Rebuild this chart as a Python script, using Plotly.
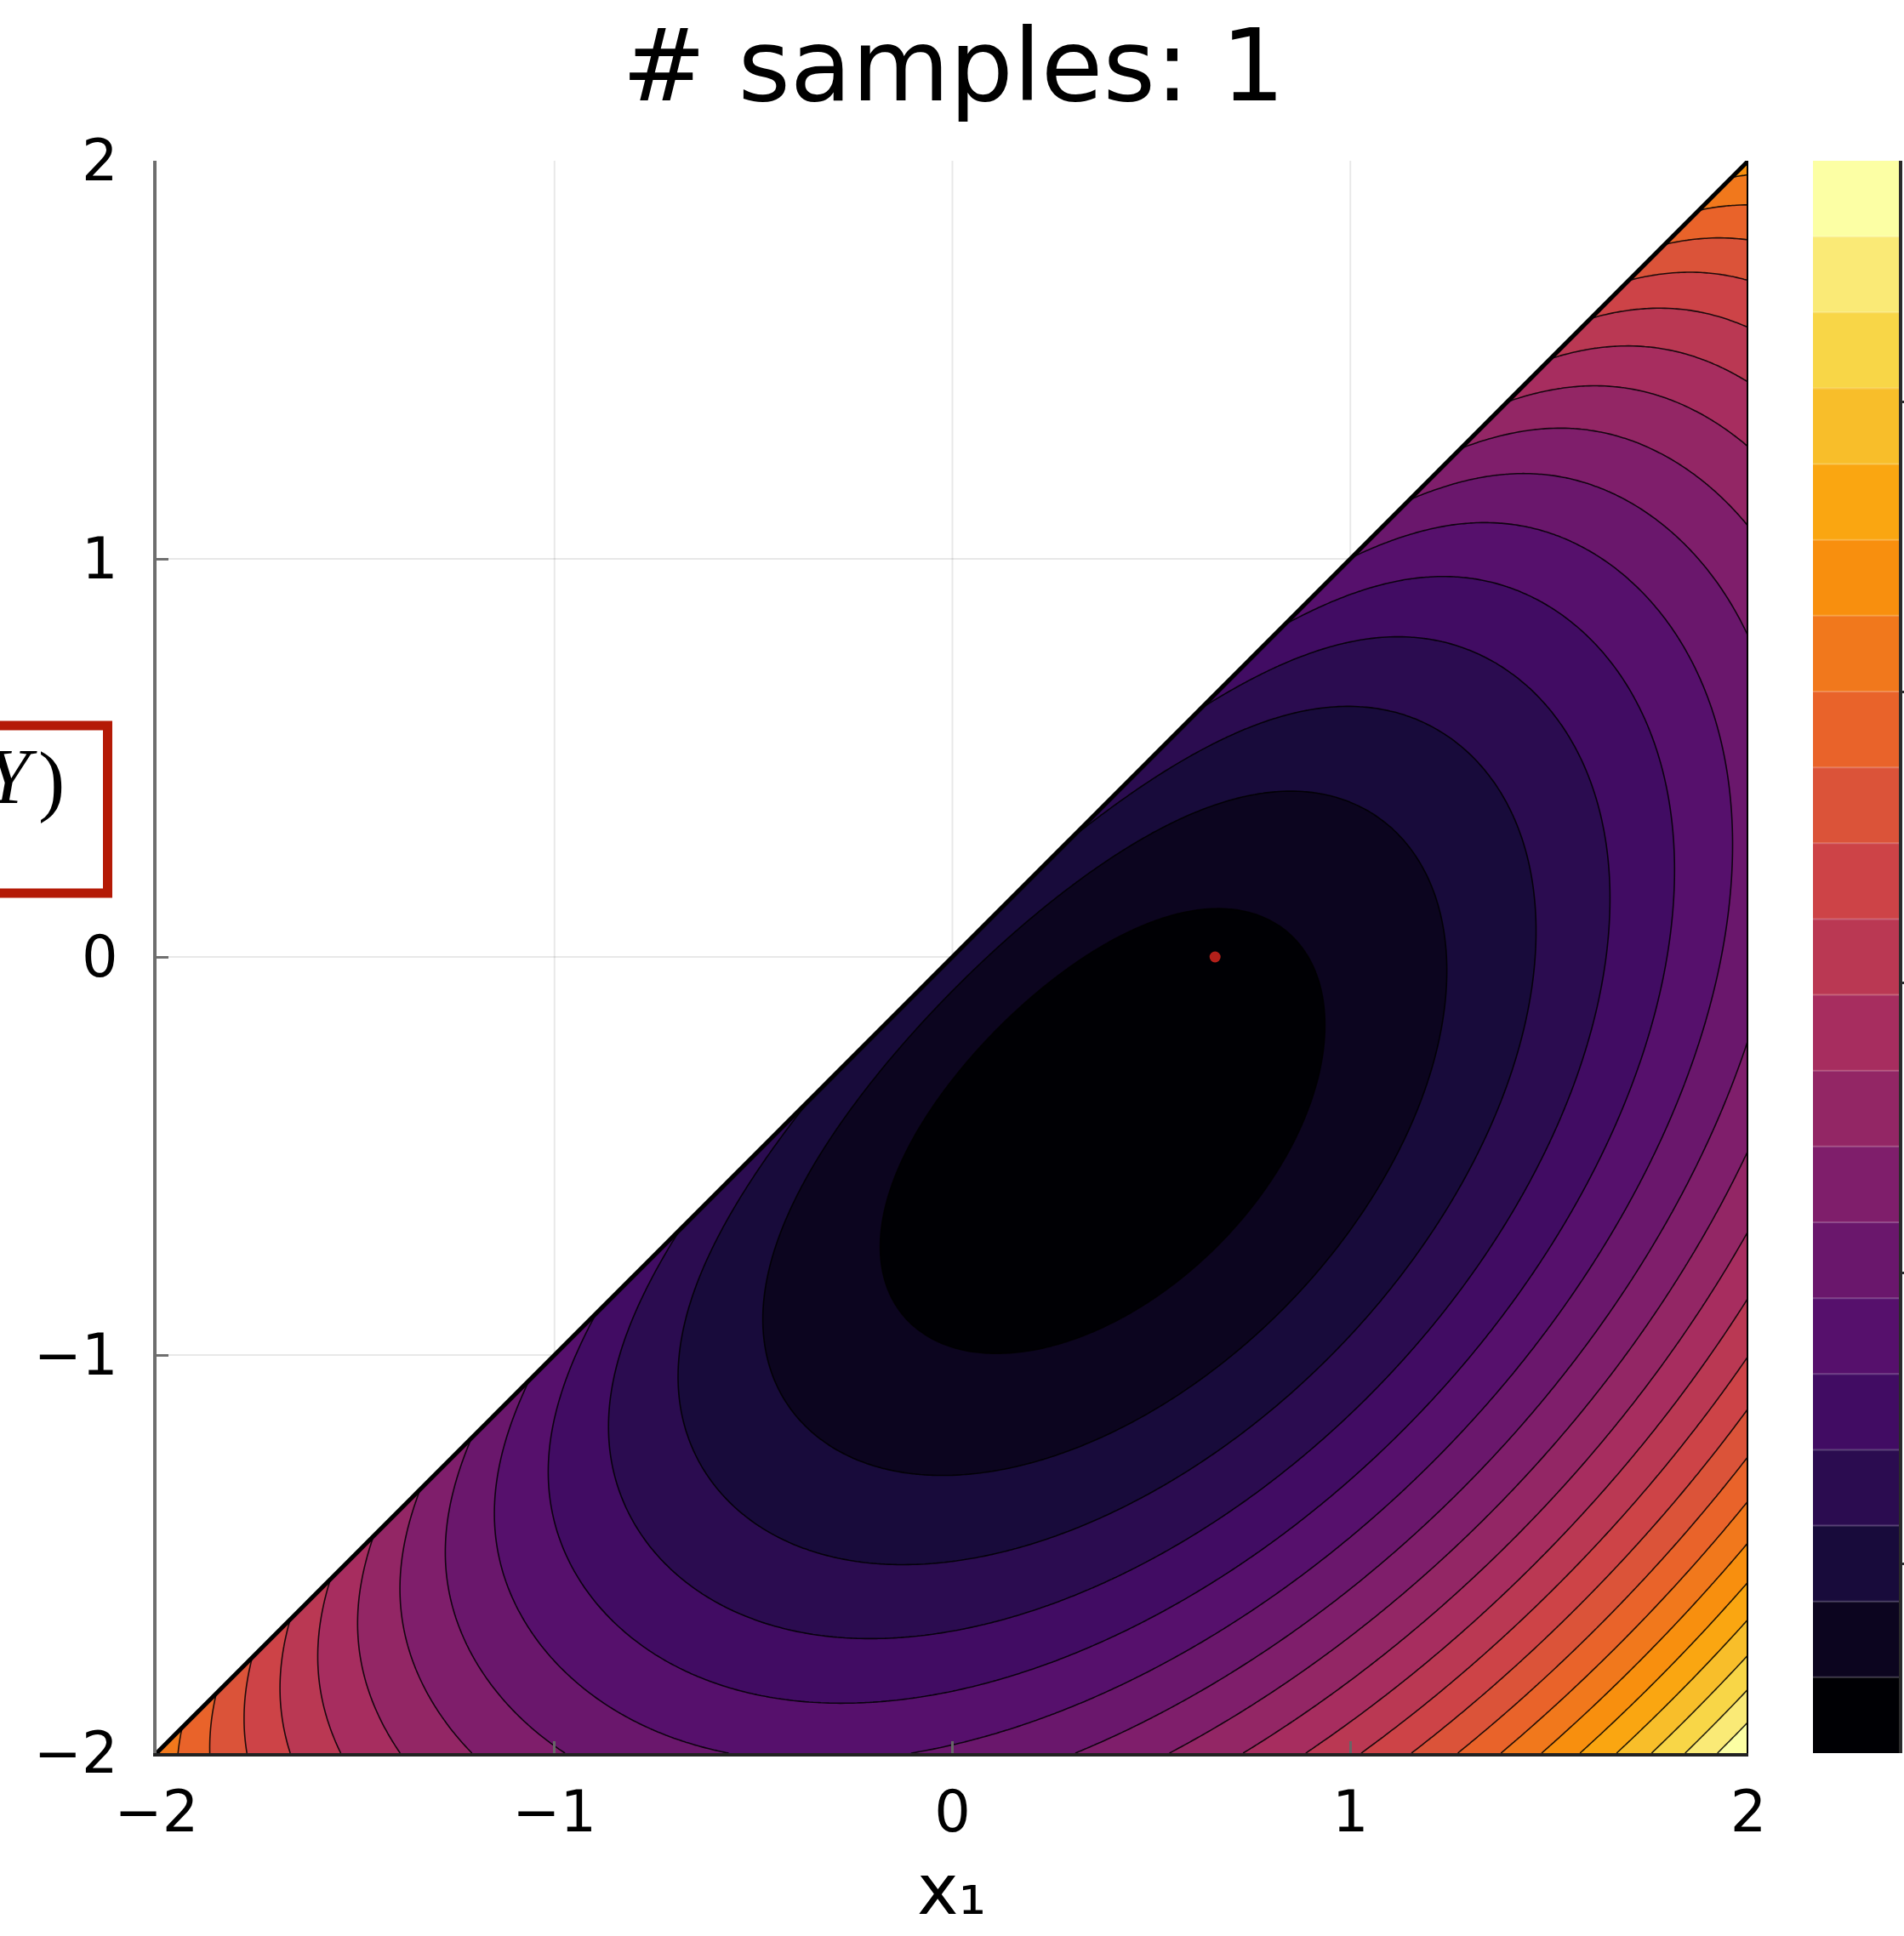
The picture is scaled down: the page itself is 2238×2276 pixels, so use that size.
import numpy as np
import plotly.graph_objects as go
from plotly.colors import sample_colorscale

# ---------------- data ----------------
title_text = "# samples: 1"
x_label = "x₁"
axis_ticks = [-2, -1, 0, 1, 2]
x_range = [-2, 2]
y_range = [-2, 2]

# surface: quadratic bowl plus a thin rise along the x1 = x2 edge (level units)
bowl_center = [0.36, -0.42]
bowl_precision = [[2.78, -1.22], [-1.22, 2.78]]
bowl_floor = 0.25
edge_rise = 1.2
edge_width = 0.2

# contour levels and colour bands
level_start = 1
level_end = 20
level_step = 1
n_bands = 21
colorbar_ticks = [2.5, 6.33, 10.16, 13.99, 17.82]

# highlighted sample
sample_x = [0.66]
sample_y = [0.0]

# boxed label at the left edge
box_italic = "Y"
box_close = ")"

# ---------------- page geometry (px) ----------------
W, H = 2238, 2276
ML, MT, MB = 184, 189, 215
plot_right = 2055
cbar_left, cbar_right = 2131, 2232
paper_w = W - ML
paper_h = H - MT - MB


def px_x(p):
    return (p - ML) / paper_w


def px_y(p):
    return (H - MB - p) / paper_h


# ---------------- surface ----------------
gx = np.linspace(x_range[0], x_range[1], 401)
gy = np.linspace(y_range[0], y_range[1], 401)
XX, YY = np.meshgrid(gx, gy)
dx = XX - bowl_center[0]
dy = YY - bowl_center[1]
Q = bowl_precision
gap = np.clip(XX - YY, 0, None)
Z = (bowl_floor + Q[0][0] * dx**2 + 2 * Q[0][1] * dx * dy + Q[1][1] * dy**2
     + edge_rise * np.exp(-gap / edge_width))

band_colors = sample_colorscale("Inferno", [k / (n_bands - 1) for k in range(n_bands)])
band_scale = [[k / (n_bands - 1), c] for k, c in enumerate(band_colors)]

fig = go.Figure()

fig.add_trace(go.Contour(
    x=gx, y=gy, z=Z,
    colorscale=band_scale,
    showscale=False,
    contours=dict(start=level_start, end=level_end, size=level_step, coloring="fill"),
    line=dict(color="rgba(0,0,0,0.85)", width=1.6),
    hoverinfo="skip",
))

# blank out the region above the diagonal (x2 > x1)
fig.add_trace(go.Scatter(
    x=[x_range[0], x_range[0], x_range[1], x_range[0]],
    y=[y_range[0], y_range[1], y_range[1], y_range[0]],
    mode="lines", fill="toself", fillcolor="white",
    line=dict(width=0, color="white"), hoverinfo="skip", showlegend=False,
))

fig.add_trace(go.Scatter(
    x=sample_x, y=sample_y, mode="markers",
    marker=dict(size=13, color="#b3201a", line=dict(width=0)),
    hoverinfo="skip", showlegend=False,
))

# discrete colour bar
fig.add_trace(go.Heatmap(
    x=[0], y=[k + 0.5 for k in range(n_bands)],
    z=[[k] for k in range(n_bands)],
    zmin=0, zmax=n_bands - 1, colorscale=band_scale, showscale=False,
    xaxis="x2", yaxis="y2", hoverinfo="skip",
))

shapes = []
# grid lines visible in the blank half
for v in axis_ticks[1:-1]:
    shapes.append(dict(type="line", xref="x", yref="y", x0=v, x1=v, y0=v, y1=y_range[1],
                       line=dict(color="rgba(0,0,0,0.09)", width=2), layer="above"))
    shapes.append(dict(type="line", xref="x", yref="y", x0=x_range[0], x1=v, y0=v, y1=v,
                       line=dict(color="rgba(0,0,0,0.09)", width=2), layer="above"))
# faint separators between colour-bar bands
for k in range(1, n_bands):
    shapes.append(dict(type="line", xref="x2", yref="y2", x0=-0.5, x1=0.5, y0=k, y1=k,
                       line=dict(color="rgba(255,255,255,0.22)", width=2), layer="above"))
# outline of the triangular domain
shapes.append(dict(type="line", xref="x", yref="y", x0=x_range[0], y0=y_range[0],
                   x1=x_range[1], y1=y_range[1], line=dict(color="black", width=5), layer="above"))
shapes.append(dict(type="line", xref="x", yref="y", x0=x_range[1], y0=y_range[0],
                   x1=x_range[1], y1=y_range[1], line=dict(color="black", width=4), layer="above"))
# boxed label frame
shapes.append(dict(type="rect", xref="paper", yref="paper",
                   x0=px_x(-20), x1=px_x(126.5), y0=px_y(1050), y1=px_y(853),
                   line=dict(color="#b41a06", width=11), fillcolor="white", layer="above"))

annotations = [
    dict(text=title_text, xref="paper", yref="paper", x=px_x(1120), y=px_y(77),
         xanchor="center", yanchor="middle", showarrow=False,
         font=dict(family="DejaVu Sans", size=118, color="black")),
    dict(text=x_label, xref="paper", yref="paper", x=px_x(1118), y=px_y(2221),
         xanchor="center", yanchor="middle", showarrow=False,
         font=dict(family="DejaVu Sans", size=82, color="black")),
    dict(text="<i>" + box_italic + "</i>", xref="paper", yref="paper", x=px_x(46), y=px_y(912),
         xanchor="right", yanchor="middle", showarrow=False,
         font=dict(family="Liberation Serif", size=94, color="black")),
    dict(text=box_close, xref="paper", yref="paper", x=px_x(78), y=px_y(916),
         xanchor="right", yanchor="middle", showarrow=False,
         font=dict(family="Liberation Serif", size=94, color="black")),
]

tick_font = dict(family="DejaVu Sans", size=67, color="black")

fig.update_layout(
    width=W, height=H,
    margin=dict(l=ML, r=0, t=MT, b=MB, pad=0, autoexpand=False),
    paper_bgcolor="white", plot_bgcolor="white",
    showlegend=False,
    shapes=shapes, annotations=annotations,
    xaxis=dict(range=x_range, domain=[0, px_x(plot_right)], tickvals=axis_ticks,
               showgrid=False, zeroline=False, showline=True, linecolor="#222", linewidth=4,
               ticks="inside", ticklen=14, tickwidth=3, tickcolor="#666",
               tickfont=tick_font, ticklabelstandoff=8, mirror=False, automargin=False),
    yaxis=dict(range=y_range, domain=[0, 1], tickvals=axis_ticks,
               showgrid=False, zeroline=False, showline=True, linecolor="#6e6e6e", linewidth=4,
               ticks="inside", ticklen=14, tickwidth=3, tickcolor="#777",
               tickfont=tick_font, ticklabelstandoff=28, mirror=False, automargin=False),
    xaxis2=dict(domain=[px_x(cbar_left), px_x(cbar_right)], range=[-0.5, 0.5],
                visible=False, anchor="y2", automargin=False),
    yaxis2=dict(domain=[0, 1], range=[0, n_bands], anchor="x2", side="right",
                tickvals=colorbar_ticks, ticks="outside", ticklen=10, tickwidth=3,
                tickcolor="#333", showticklabels=False, showgrid=False, zeroline=False,
                showline=True, linecolor="#2a2a2a", linewidth=4, automargin=False),
)

fig.write_html("out.html")
